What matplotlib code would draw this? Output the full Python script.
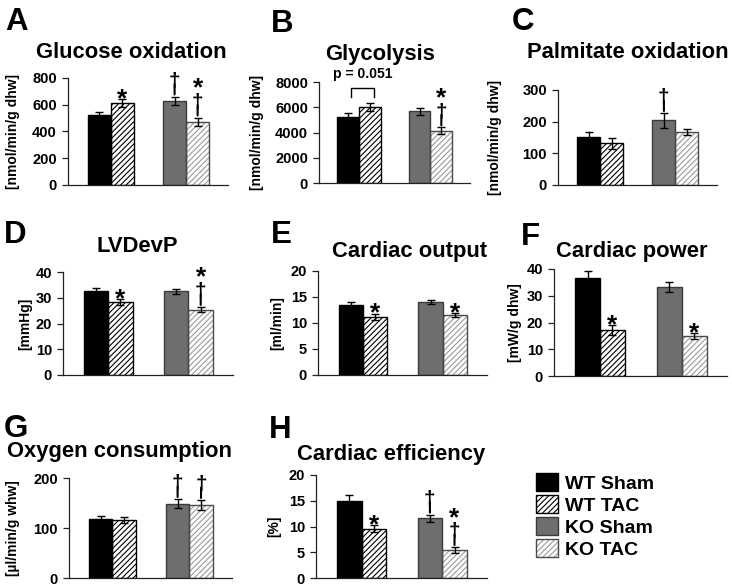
import numpy as np
import matplotlib.pyplot as plt
from matplotlib.patches import Patch

plt.rcParams['font.family'] = ['Liberation Sans', 'DejaVu Sans']
plt.rcParams['font.weight'] = 'bold'
plt.rcParams['hatch.linewidth'] = 0.8

groups = ['WT Sham', 'WT TAC', 'KO Sham', 'KO TAC']

# means and error bars, in group order
glucose_ox = [520, 612, 628, 472]
glucose_ox_err = [25, 28, 33, 32]
glycolysis = [5250, 6000, 5700, 4150]
glycolysis_err = [280, 300, 280, 250]
palmitate_ox = [153, 132, 204, 167]
palmitate_ox_err = [14, 17, 23, 10]
lvdevp = [32.6, 28.2, 32.5, 25.4]
lvdevp_err = [1.2, 1.2, 1.0, 1.0]
cardiac_output = [13.5, 11.2, 14.1, 11.5]
cardiac_output_err = [0.6, 0.6, 0.4, 0.4]
cardiac_power = [36.5, 17.3, 33.2, 15.0]
cardiac_power_err = [2.6, 1.8, 1.9, 1.0]
oxygen = [119, 117, 149, 146]
oxygen_err = [5, 6, 9, 10]
efficiency = [15.0, 9.6, 11.6, 5.4]
efficiency_err = [1.1, 0.7, 0.7, 0.6]

# significance marks per bar, listed bottom to top
marks_A = ['', '*', '†', '†*']
marks_B = ['', '', '', '†*']
marks_C = ['', '', '†', '']
marks_D = ['', '*', '', '†*']
marks_E = ['', '*', '', '*']
marks_F = ['', '*', '', '*']
marks_G = ['', '', '†', '†']
marks_H = ['', '*', '†', '†*']

# bar styles
face = ['black', 'white', '#6e6e6e', 'white']
hatch = [None, '//////', None, '//////']
hatch_col = ['black', 'black', '#6e6e6e', '#9a9a9a']
edge = ['black', 'black', '#3a3a3a', '#4a4a4a']
pos = [0, 1, 3.28, 4.28]

W, H = 732, 588
fig = plt.figure(figsize=(W / 100, H / 100), dpi=100)

# letter, title, ylabel, values, errors, yticks, marks,
# axes box px (l, t, r, b), title (x, baseline), letter (x, baseline), ylabel offset
panels = [
    ('A', 'Glucose oxidation', '[nmol/min/g dhw]', glucose_ox, glucose_ox_err,
     [0, 200, 400, 600, 800], marks_A, (68, 78, 228, 185), (131, 58), (5, 30), 55),
    ('B', 'Glycolysis', '[nmol/min/g dhw]', glycolysis, glycolysis_err,
     [0, 2000, 4000, 6000, 8000], marks_B, (319, 82, 470, 183), (380, 60), (271, 32), 62),
    ('C', 'Palmitate oxidation', '[nmol/min/g dhw]', palmitate_ox, palmitate_ox_err,
     [0, 100, 200, 300], marks_C, (558, 90, 717, 185), (628, 58), (512, 30), 63),
    ('D', 'LVDevP', '[mmHg]', lvdevp, lvdevp_err,
     [0, 10, 20, 30, 40], marks_D, (63, 272, 233, 375), (137, 252), (4, 243), 38),
    ('E', 'Cardiac output', '[ml/min]', cardiac_output, cardiac_output_err,
     [0, 5, 10, 15, 20], marks_E, (318, 271, 487, 375), (410, 257), (271, 243), 41),
    ('F', 'Cardiac power', '[mW/g dhw]', cardiac_power, cardiac_power_err,
     [0, 10, 20, 30, 40], marks_F, (554, 269, 727, 376), (632, 257), (521, 245), 39),
    ('G', 'Oxygen consumption', '[µl/min/g whw]', oxygen, oxygen_err,
     [0, 100, 200], marks_G, (69, 478, 232, 578), (120, 457), (4, 437), 56),
    ('H', 'Cardiac efficiency', '[%]', efficiency, efficiency_err,
     [0, 5, 10, 15, 20], marks_H, (316, 475, 487, 578), (391, 460), (269, 438), 42),
]

handles = []
for letter, title, ylabel, vals, errs, yticks, marks, box, tpos, lpos, yoff in panels:
    l, t, r, b = box
    ax = fig.add_axes([l / W, 1 - b / H, (r - l) / W, (b - t) / H])
    for i in range(4):
        ax.bar(pos[i], vals[i], 1, color=face[i], edgecolor=hatch_col[i],
               hatch=hatch[i], linewidth=0, zorder=2)
        ax.bar(pos[i], vals[i], 1, fill=False, edgecolor=edge[i], linewidth=1, zorder=3)
        ax.errorbar(pos[i], vals[i], yerr=errs[i], fmt='none', ecolor='black',
                    elinewidth=1, capsize=3, capthick=1, zorder=4)
        top = vals[i] + errs[i]
        m = marks[i]
        if '†' in m:
            # dagger with a long stem reaching down to the error bar
            ax.annotate('†', (pos[i], top), xytext=(0, 7), textcoords='offset points',
                        ha='center', va='baseline', fontsize=15, fontweight='bold',
                        annotation_clip=False)
            ax.annotate('', (pos[i], top), xytext=(0, 9), textcoords='offset points',
                        annotation_clip=False,
                        arrowprops=dict(arrowstyle='-', lw=1.5, color='black',
                                        shrinkA=0, shrinkB=1.5))
        if '*' in m:
            off = 16 if '†' in m else -5
            ax.annotate('*', (pos[i], top), xytext=(0, off), textcoords='offset points',
                        ha='center', va='baseline', fontsize=19, fontweight='bold',
                        annotation_clip=False)
    ax.set_xlim(-1.35, 5.6)
    ax.set_ylim(0, yticks[-1])
    ax.set_yticks(yticks)
    for s in ['top', 'right']:
        ax.spines[s].set_visible(False)
    for s in ['left', 'bottom']:
        ax.spines[s].set_linewidth(0.9)
        ax.spines[s].set_color('#222222')
    ax.tick_params(axis='x', bottom=False, labelbottom=False)
    ax.tick_params(axis='y', length=4, width=0.9, color='#222222', pad=4, labelsize=10.5)
    for lab in ax.get_yticklabels():
        lab.set_fontweight('bold')
    ax.set_ylabel(ylabel, fontsize=10, fontweight='bold', va='center')
    ax.yaxis.set_label_coords(-yoff / (r - l), 0.5)
    fig.text(tpos[0] / W, 1 - tpos[1] / H, title, ha='center', va='baseline',
             fontsize=15.8, fontweight='bold')
    fig.text(lpos[0] / W, 1 - lpos[1] / H, letter, ha='left', va='baseline',
             fontsize=22.5, fontweight='bold')
    if letter == 'B':
        yb = [6800, 7550, 7550, 6800]
        ax.plot([0.1, 0.1, 1.2, 1.2], yb, color='black', lw=1, clip_on=False)
        ax.text(0.65, 8600, 'p = 0.051', ha='center', va='center', fontsize=10,
                fontweight='bold', clip_on=False)

for i in range(4):
    handles.append((Patch(facecolor=face[i], edgecolor=hatch_col[i], hatch=hatch[i], linewidth=0),
                    Patch(fill=False, edgecolor=edge[i], linewidth=1)))

fig.legend(handles, groups, loc='upper left', bbox_to_anchor=(536 / W, 1 - 473 / H),
           frameon=False, handlelength=1.15, handleheight=1.05,
           handletextpad=0.35, labelspacing=0.12, borderpad=0, borderaxespad=0,
           prop={'weight': 'bold', 'size': 14})

fig.savefig('out.png', dpi=100)
